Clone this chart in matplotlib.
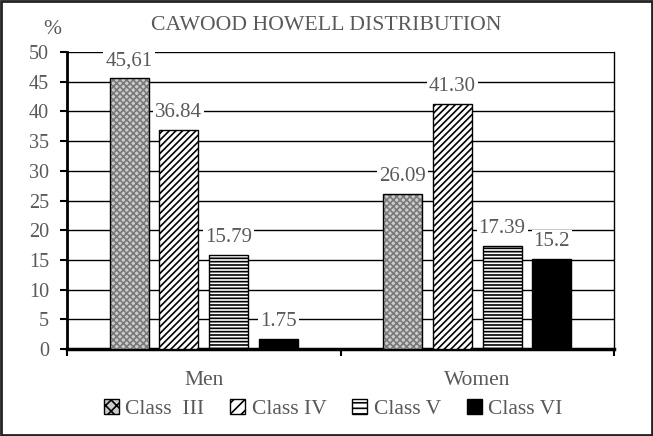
import matplotlib.pyplot as plt
from matplotlib.patches import Patch
import numpy as np

# data
groups = ["Men", "Women"]
classes = ["Class  III", "Class IV", "Class V", "Class VI"]
men = [45.61, 36.84, 15.79, 1.75]
women = [26.09, 41.30, 17.39, 15.2]
men_labels = ["45,61", "36.84", "15.79", "1.75"]
women_labels = ["26.09", "41.30", "17.39", "15.2"]
y_ticks = [0, 5, 10, 15, 20, 25, 30, 35, 40, 45, 50]

txt_color = "#595959"
plt.rcParams['font.family'] = ['Liberation Serif', 'DejaVu Serif']
plt.rcParams['hatch.linewidth'] = 1.2

fill_colors = ["#cccccc", "white", "white", "black"]
hatch_colors = ["#7a7a7a", "black", "black", "black"]
hatches = ["xxxxx", "/////", "-----", ""]

fig = plt.figure(figsize=(6.53, 4.36), dpi=100)
ax = fig.add_axes([67/653, 1 - 349/436, (614-67)/653, (349-52)/436])

# frame around the whole figure
fig.patches.append(plt.Rectangle((0.002, 0.002), 0.996, 0.996, transform=fig.transFigure,
                                 fill=False, edgecolor="#222222", linewidth=2))

x = np.arange(len(groups))
width = 0.142
step = 0.182
vals = [men, women]
labs = [men_labels, women_labels]
for j in range(len(classes)):
    pos = x + (j - 1.5) * step
    heights = [vals[0][j], vals[1][j]]
    ax.bar(pos, heights, width, color=fill_colors[j], hatch=hatches[j],
           edgecolor=hatch_colors[j], linewidth=0, zorder=3)
    ax.bar(pos, heights, width, fill=False, edgecolor="black", linewidth=1.0, zorder=4)
    for k in range(len(groups)):
        ax.text(pos[k], heights[k] + 1.3, labs[k][j], ha="center", va="bottom",
                fontsize=15, color=txt_color, zorder=5,
                bbox=dict(facecolor="white", edgecolor="none", pad=1.5))

ax.set_xlim(-0.5, 1.5)
ax.set_ylim(0, 50)
ax.set_yticks(y_ticks)
ax.set_xticks([-0.5, 0.5, 1.5])
ax.set_xticklabels([])
ax.set_xticks([0, 1], minor=True)
ax.set_xticklabels(groups, minor=True)
ax.tick_params(axis='x', which='minor', length=0, pad=16, labelsize=15.5, labelcolor=txt_color)
ax.tick_params(axis='x', which='major', length=5, width=1.5, direction='out')
ax.tick_params(axis='y', length=5, width=1.5, labelsize=14.5, labelcolor=txt_color, pad=8)
ax.yaxis.grid(True, color="black", linewidth=1.0, zorder=0)
ax.set_axisbelow(True)
ax.spines['left'].set_linewidth(2)
ax.spines['bottom'].set_linewidth(2.5)
ax.spines['right'].set_linewidth(1.0)
ax.spines['top'].set_visible(False)

fig.text(326/653, 1 - 25/436, "CAWOOD HOWELL DISTRIBUTION", ha="center", va="center",
         fontsize=15.7, color=txt_color)
fig.text(52/653, 1 - 30/436, "%", ha="center", va="center", fontsize=15.5, color=txt_color)

handles = []
for j in range(len(classes)):
    handles.append(Patch(facecolor=fill_colors[j], hatch=hatches[j][:3],
                         edgecolor="black", linewidth=1.0, label=classes[j]))
leg = fig.legend(handles=handles, loc="center", bbox_to_anchor=(0.51, 1 - 409/436), ncol=4,
                 frameon=False, fontsize=15.5, handlelength=0.7, handleheight=0.7,
                 handletextpad=0.3, columnspacing=1.2, labelcolor=txt_color)

fig.savefig("out.png", dpi=100)
